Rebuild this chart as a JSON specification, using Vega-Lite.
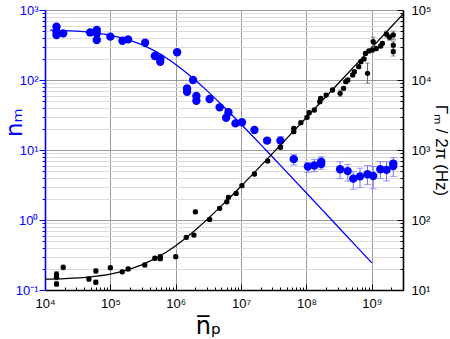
{
  "$schema": "https://vega.github.io/schema/vega-lite/v6.json",
  "width": 358,
  "height": 280,
  "autosize": {"type": "none"},
  "padding": {"left": 45, "top": 10, "right": 47, "bottom": 49},
  "background": "white",
  "config": {
    "font": "Liberation Sans",
    "view": {"stroke": null},
    "axis": {"labelFontSize": 13, "labelFont": "Liberation Sans", "titleFontWeight": "normal", "domainWidth": 1.6, "tickWidth": 1}
  },
  "datasets": {
    "blue": [
      {"x": 15000, "n": 576}, {"x": 15000, "n": 490}, {"x": 15000, "n": 440}, {"x": 19000, "n": 464},
      {"x": 49000, "n": 478}, {"x": 62000, "n": 520}, {"x": 62000, "n": 460}, {"x": 62000, "n": 372},
      {"x": 100000, "n": 416}, {"x": 153000, "n": 364}, {"x": 187000, "n": 380}, {"x": 340000, "n": 341},
      {"x": 480000, "n": 220}, {"x": 580000, "n": 204}, {"x": 580000, "n": 182}, {"x": 1050000, "n": 249},
      {"x": 1840000, "n": 100}, {"x": 1490000, "n": 76}, {"x": 1490000, "n": 68}, {"x": 2070000, "n": 59},
      {"x": 2070000, "n": 50.6}, {"x": 3300000, "n": 53.6}, {"x": 4700000, "n": 40.7}, {"x": 6400000, "n": 34.6},
      {"x": 5900000, "n": 28.9}, {"x": 8200000, "n": 24}, {"x": 10300000, "n": 24.9}, {"x": 16000000, "n": 19.3},
      {"x": 25000000, "n": 13.6, "lo": 12.5, "hi": 14.8},
      {"x": 40000000, "n": 13.6, "lo": 11.5, "hi": 15.5},
      {"x": 64000000, "n": 7.4, "lo": 6.1, "hi": 8.6},
      {"x": 105000000, "n": 5.8, "lo": 4.8, "hi": 6.6},
      {"x": 132000000, "n": 6.0, "lo": 4.9, "hi": 7.3},
      {"x": 168000000, "n": 6.8, "lo": 5.3, "hi": 8.0},
      {"x": 168000000, "n": 6.3},
      {"x": 327000000, "n": 5.3, "lo": 3.9, "hi": 6.8},
      {"x": 427000000, "n": 5.0, "lo": 3.6, "hi": 6.2},
      {"x": 520000000, "n": 3.9, "lo": 2.75, "hi": 4.9},
      {"x": 660000000, "n": 4.2, "lo": 2.9, "hi": 5.5},
      {"x": 860000000, "n": 4.5, "lo": 3.2, "hi": 6.0},
      {"x": 1050000000, "n": 4.25, "lo": 2.8, "hi": 5.8},
      {"x": 1350000000, "n": 5.3, "lo": 3.9, "hi": 6.8},
      {"x": 1680000000, "n": 5.2, "lo": 3.6, "hi": 6.8},
      {"x": 2130000000, "n": 5.9, "lo": 4.2, "hi": 7.8},
      {"x": 2130000000, "n": 6.4}
    ],
    "blueFit": [
      {"x": 12000, "n": 516.5}, {"x": 20000, "n": 507.9}, {"x": 30000, "n": 497.6}, {"x": 50000, "n": 478},
      {"x": 70000, "n": 460}, {"x": 100000, "n": 435.4}, {"x": 200000, "n": 369.4}, {"x": 300000, "n": 320.8},
      {"x": 500000, "n": 254}, {"x": 700000, "n": 210}, {"x": 1000000, "n": 167}, {"x": 2000000, "n": 99.1},
      {"x": 3000000, "n": 70.5}, {"x": 5000000, "n": 44.65}, {"x": 10000000, "n": 23.3}, {"x": 20000000, "n": 11.92},
      {"x": 30000000, "n": 8.0}, {"x": 50000000, "n": 4.83}, {"x": 100000000, "n": 2.427}, {"x": 200000000, "n": 1.216},
      {"x": 500000000, "n": 0.487}, {"x": 1000000000, "n": 0.2437}
    ],
    "black": [
      {"x": 15000, "g": 16.9, "lo": 15.6, "hi": 18.3}, {"x": 15000, "g": 15.2, "lo": 14.0, "hi": 16.4},
      {"x": 15000, "g": 12.2, "lo": 11.2, "hi": 13.2}, {"x": 19000, "g": 21.1, "lo": 19.4, "hi": 22.8},
      {"x": 47000, "g": 14.4, "lo": 13.4, "hi": 15.4}, {"x": 60000, "g": 18.7, "lo": 17.4, "hi": 20.0},
      {"x": 60000, "g": 12.9, "lo": 12.0, "hi": 13.8}, {"x": 100000, "g": 20.8, "lo": 19.6, "hi": 22.0},
      {"x": 152000, "g": 18.2, "lo": 17.1, "hi": 19.3}, {"x": 187000, "g": 20, "lo": 18.8, "hi": 21.2},
      {"x": 336000, "g": 22.8, "lo": 21.4, "hi": 24.2}, {"x": 480000, "g": 28.4, "lo": 26.7, "hi": 30.1},
      {"x": 580000, "g": 29.9, "lo": 28.1, "hi": 31.7}, {"x": 580000, "g": 28, "lo": 26.3, "hi": 29.7},
      {"x": 1000000, "g": 29.9, "lo": 28.4, "hi": 31.4}, {"x": 1450000, "g": 56.6, "lo": 53, "hi": 60},
      {"x": 1900000, "g": 61, "lo": 57.5, "hi": 64.5}, {"x": 2000000, "g": 131, "lo": 123, "hi": 139},
      {"x": 3300000, "g": 102, "lo": 96, "hi": 108}, {"x": 4700000, "g": 147, "lo": 139, "hi": 155},
      {"x": 6050000, "g": 182, "lo": 172, "hi": 192}, {"x": 6400000, "g": 211, "lo": 199, "hi": 223},
      {"x": 8400000, "g": 240, "lo": 227, "hi": 253}, {"x": 10300000, "g": 309, "lo": 292, "hi": 326},
      {"x": 16000000, "g": 454, "lo": 429, "hi": 479}, {"x": 25500000, "g": 697, "lo": 659, "hi": 735},
      {"x": 40000000, "g": 1094, "lo": 1034, "hi": 1154}, {"x": 64000000, "g": 1824, "lo": 1724, "hi": 1924},
      {"x": 64000000, "g": 2040, "lo": 1930, "hi": 2150}, {"x": 82000000, "g": 2455, "lo": 2320, "hi": 2590},
      {"x": 102000000, "g": 2930, "lo": 2770, "hi": 3090}, {"x": 110000000, "g": 3410, "lo": 3220, "hi": 3600},
      {"x": 132000000, "g": 3727, "lo": 3520, "hi": 3930}, {"x": 160000000, "g": 4900, "lo": 4630, "hi": 5170},
      {"x": 165000000, "g": 5480, "lo": 5180, "hi": 5780}, {"x": 200000000, "g": 6100, "lo": 5770, "hi": 6430},
      {"x": 250000000, "g": 7200, "lo": 6800, "hi": 7600}, {"x": 328000000, "g": 6460, "lo": 5800, "hi": 7200},
      {"x": 370000000, "g": 7600, "lo": 7180, "hi": 8020}, {"x": 400000000, "g": 9460, "lo": 8940, "hi": 9980},
      {"x": 430000000, "g": 10000, "lo": 9450, "hi": 10550}, {"x": 510000000, "g": 11800, "lo": 11150, "hi": 12450},
      {"x": 540000000, "g": 13150, "lo": 12430, "hi": 13870}, {"x": 630000000, "g": 15500, "lo": 14650, "hi": 16350},
      {"x": 680000000, "g": 18300, "lo": 17300, "hi": 19300}, {"x": 760000000, "g": 20000, "lo": 18900, "hi": 21100},
      {"x": 800000000, "g": 24000, "lo": 22700, "hi": 25300}, {"x": 900000000, "g": 26000, "lo": 24600, "hi": 27400},
      {"x": 860000000, "g": 12450, "lo": 9000, "hi": 17500}, {"x": 1050000000, "g": 35300, "lo": 30000, "hi": 41000},
      {"x": 1020000000, "g": 26800, "lo": 25300, "hi": 28300}, {"x": 1170000000, "g": 28200, "lo": 26600, "hi": 29800},
      {"x": 1370000000, "g": 30600, "lo": 28900, "hi": 32300}, {"x": 1450000000, "g": 33400, "lo": 31500, "hi": 35300},
      {"x": 1670000000, "g": 45400, "lo": 41000, "hi": 50000}, {"x": 1860000000, "g": 40800, "lo": 37000, "hi": 45000},
      {"x": 2130000000, "g": 44000, "lo": 38000, "hi": 50000}, {"x": 2130000000, "g": 31600, "lo": 27000, "hi": 36000},
      {"x": 2130000000, "g": 25400, "lo": 22000, "hi": 29000}
    ],
    "blackFit": [
      {"x": 10000, "g": 14.29}, {"x": 20000, "g": 14.58}, {"x": 50000, "g": 15.45}, {"x": 100000, "g": 16.9},
      {"x": 200000, "g": 19.8}, {"x": 500000, "g": 28.5}, {"x": 1000000, "g": 43}, {"x": 2000000, "g": 72},
      {"x": 5000000, "g": 159}, {"x": 10000000, "g": 304}, {"x": 20000000, "g": 594}, {"x": 50000000, "g": 1464},
      {"x": 100000000, "g": 2914}, {"x": 200000000, "g": 5814}, {"x": 500000000, "g": 14514}, {"x": 1000000000, "g": 29014},
      {"x": 2000000000, "g": 58014}, {"x": 3000000000, "g": 87014}
    ]
  },
  "encoding": {
    "x": {
      "field": "x", "type": "quantitative",
      "scale": {"type": "log", "domain": [10000, 3000000000]},
      "axis": {
        "orient": "bottom", "title": "n̅ₚ", "titleFont": "DejaVu Sans", "titleFontSize": 24, "titleColor": "black",
        "titleX": 163, "titleY": 43, "titleBaseline": "alphabetic", "titleAnchor": "middle", "titleAlign": "center",
        "values": [10000,20000,30000,40000,50000,60000,70000,80000,90000,100000,200000,300000,400000,500000,600000,700000,800000,900000,1000000,2000000,3000000,4000000,5000000,6000000,7000000,8000000,9000000,10000000,20000000,30000000,40000000,50000000,60000000,70000000,80000000,90000000,100000000,200000000,300000000,400000000,500000000,600000000,700000000,800000000,900000000,1000000000,2000000000,3000000000],
        "labelExpr": "abs(log(datum.value)/LN10 - round(log(datum.value)/LN10)) < 1e-6 ? '10' + ['⁻¹','⁰','¹','²','³','⁴','⁵','⁶','⁷','⁸','⁹'][round(log(datum.value)/LN10)+1] : ''",
        "labelColor": "black", "labelPadding": 13, "labelFlush": false, "labelOverlap": false,
        "domainColor": "black", "tickColor": "black",
        "tickSize": {"condition": {"test": "abs(log(datum.value)/LN10 - round(log(datum.value)/LN10)) < 1e-6", "value": -6}, "value": -3},
        "grid": true,
        "gridColor": "#9a9a9a",
        "gridOpacity": {"condition": {"test": "abs(log(datum.value)/LN10 - round(log(datum.value)/LN10)) < 1e-6", "value": 1}, "value": 0}
      }
    }
  },
  "layer": [
    {
      "encoding": {
        "y": {
          "field": "n", "type": "quantitative",
          "scale": {"type": "log", "domain": [0.1, 1000]},
          "axis": {
            "orient": "left", "title": "nₘ", "titleFont": "DejaVu Sans", "titleFontSize": 23, "titleColor": "#0000ff",
            "titleX": -24, "titleY": 112, "titleBaseline": "alphabetic", "titleAngle": -90, "titleAlign": "center",
            "values": [0.1,0.2,0.3,0.4,0.5,0.6,0.7,0.8,0.9,1,2,3,4,5,6,7,8,9,10,20,30,40,50,60,70,80,90,100,200,300,400,500,600,700,800,900,1000],
            "labelExpr": "abs(log(datum.value)/LN10 - round(log(datum.value)/LN10)) < 1e-6 ? '10' + ['⁻¹','⁰','¹','²','³','⁴','⁵','⁶','⁷','⁸','⁹'][round(log(datum.value)/LN10)+1] : ''",
            "labelColor": "#0000ff", "labelPadding": 1, "labelOverlap": false,
            "domainColor": "#0000ff", "tickColor": "#0000ff",
            "tickSize": {"condition": {"test": "abs(log(datum.value)/LN10 - round(log(datum.value)/LN10)) < 1e-6", "value": 6}, "value": 3},
            "grid": true,
            "gridColor": {"condition": {"test": "abs(log(datum.value)/LN10 - round(log(datum.value)/LN10)) < 1e-6", "value": "#9a9a9a"}, "value": "#dcdcdc"}
          }
        }
      },
      "layer": [
        {
          "data": {"name": "blueFit"},
          "mark": {"type": "line", "color": "#0000ff", "strokeWidth": 1.3, "interpolate": "monotone"}
        },
        {
          "data": {"name": "blue"},
          "transform": [{"filter": "datum.lo != null"}],
          "mark": {"type": "errorbar", "ticks": {"size": 7, "color": "#7070ff"}, "rule": {"color": "#7070ff"}},
          "encoding": {"y": {"field": "lo", "type": "quantitative"}, "y2": {"field": "hi"}}
        },
        {
          "data": {"name": "blue"},
          "mark": {"type": "circle", "size": 70, "color": "#0000ff", "opacity": 1}
        }
      ]
    },
    {
      "encoding": {
        "y": {
          "field": "g", "type": "quantitative",
          "scale": {"type": "log", "domain": [10, 100000]},
          "axis": {
            "orient": "right", "title": "Γₘ / 2π (Hz)", "titleFont": "Liberation Sans", "titleFontSize": 17, "titleColor": "black",
            "titleX": 32, "titleY": 140, "titleBaseline": "alphabetic", "titleAngle": 90, "titleAlign": "center",
            "values": [10,20,30,40,50,60,70,80,90,100,200,300,400,500,600,700,800,900,1000,2000,3000,4000,5000,6000,7000,8000,9000,10000,20000,30000,40000,50000,60000,70000,80000,90000,100000],
            "labelExpr": "abs(log(datum.value)/LN10 - round(log(datum.value)/LN10)) < 1e-6 ? '10' + ['⁻¹','⁰','¹','²','³','⁴','⁵','⁶','⁷','⁸','⁹'][round(log(datum.value)/LN10)+1] : ''",
            "labelColor": "black", "labelPadding": 14, "labelOverlap": false,
            "domainColor": "black", "tickColor": "black",
            "tickSize": {"condition": {"test": "abs(log(datum.value)/LN10 - round(log(datum.value)/LN10)) < 1e-6", "value": -6}, "value": -3},
            "grid": false
          }
        }
      },
      "layer": [
        {
          "data": {"name": "blackFit"},
          "mark": {"type": "line", "color": "black", "strokeWidth": 1.3, "interpolate": "monotone"}
        },
        {
          "data": {"name": "black"},
          "mark": {"type": "errorbar", "ticks": {"size": 5, "color": "#666666"}, "rule": {"color": "#666666"}},
          "encoding": {"y": {"field": "lo", "type": "quantitative"}, "y2": {"field": "hi"}}
        },
        {
          "data": {"name": "black"},
          "mark": {"type": "circle", "size": 28, "color": "black", "opacity": 1}
        }
      ]
    }
  ],
  "resolve": {"scale": {"y": "independent"}, "axis": {"y": "independent"}}
}
